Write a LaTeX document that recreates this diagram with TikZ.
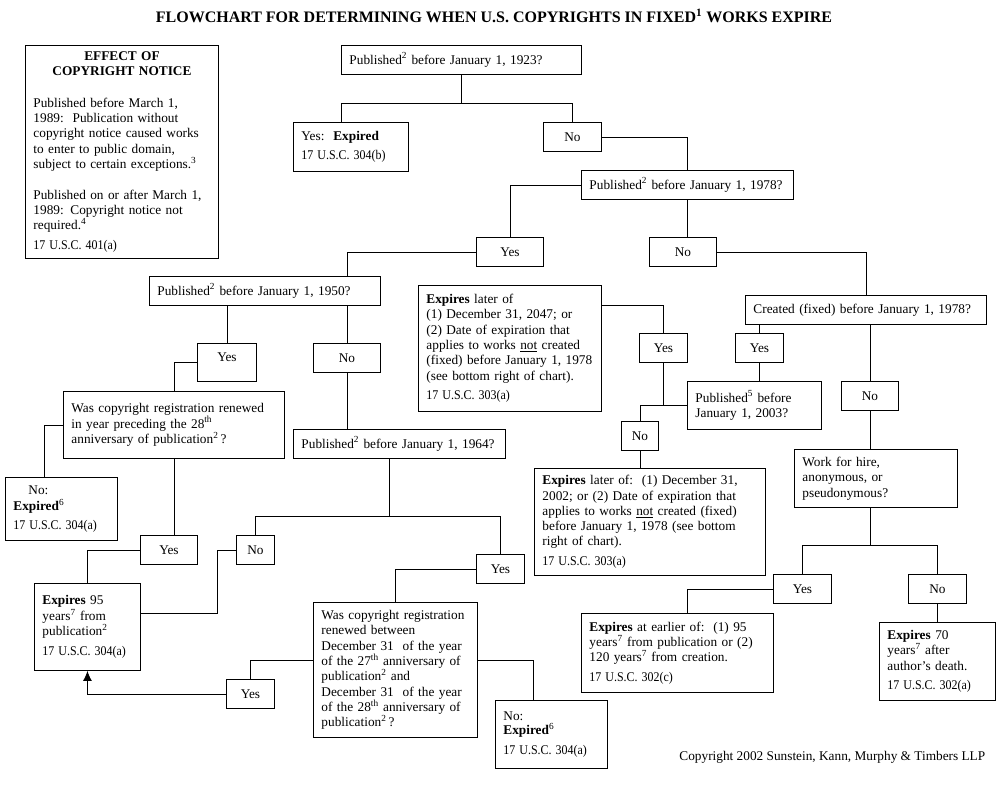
\documentclass[tikz,border=0pt]{standalone}
\usepackage{fontspec}
\setmainfont{Liberation Serif}
\usepackage{graphicx}
\usetikzlibrary{arrows.meta}
\setlength{\parindent}{0pt}
\newcommand{\usc}[1]{\scalebox{0.9}[1]{17 U.S.C. #1}}

\begin{document}
\begin{tikzpicture}[x=1pt,y=-1pt,line width=0.9pt,
  box/.style={draw, anchor=north west, align=left, inner xsep=8pt, inner ysep=3pt, font=\fontsize{13.3}{15.3}\selectfont},
  ans/.style={draw, anchor=north west, align=center, inner sep=0pt, minimum height=29, font=\fontsize{13.3}{15.3}\selectfont}]
\useasboundingbox (0,0) rectangle (1000,800);
\node [font=\bfseries\fontsize{16}{19}\selectfont] (title) at (494,16) {FLOWCHART FOR DETERMINING WHEN U.S. COPYRIGHTS IN FIXED\textsuperscript{1} WORKS EXPIRE};
\node [box, text width=177pt, minimum height=213] (notice) at (25,45) {\makebox[\hsize]{\textbf{EFFECT OF}}\\\makebox[\hsize]{\textbf{COPYRIGHT NOTICE}}\\[16.5pt]Published before March 1,\\1989:~~Publication without\\copyright notice caused works\\to enter to public domain,\\subject to certain exceptions.\textsuperscript{3}\\[15.5pt]Published on or after March 1,\\1989: Copyright notice not\\required.\textsuperscript{4}\\[4.5pt]\usc{401(a)}};
\node [box, text width=224pt, minimum height=29] (q23) at (341,45) {Published\textsuperscript{2} before January 1, 1923?};
\node [box, text width=99pt, minimum height=49] (yes1) at (293,122) {Yes:~~\textbf{Expired}\\[4pt]\usc{304(b)}};
\node [ans, minimum width=58] (no1) at (543,122) {No};
\node [box, text width=196pt, minimum height=29] (q78) at (581,170) {Published\textsuperscript{2} before January 1, 1978?};
\node [ans, minimum width=67] (yes2) at (476,237) {Yes};
\node [ans, minimum width=67] (no2) at (649,237) {No};
\node [box, text width=215pt, minimum height=29] (q50) at (149,276) {Published\textsuperscript{2} before January 1, 1950?};
\node [ans, minimum width=59, minimum height=38, text depth=10pt] (yes3) at (197,343) {Yes};
\node [ans, minimum width=67] (no3) at (313,343) {No};
\node [box, text width=205pt, minimum height=67] (qren28) at (63,391) {Was copyright registration renewed\\in year preceding the 28\textsuperscript{th}\\anniversary of publication\textsuperscript{2}\,?};
\node [box, text width=96pt, minimum height=63] (noexp1) at (5,477) {\hspace*{15pt}No:\\[0.7pt]\textbf{Expired}\textsuperscript{6}\\[4pt]\usc{304(a)}};
\node [ans, minimum width=57] (yes4) at (140,535) {Yes};
\node [ans, minimum width=38] (no5) at (236,535) {No};
\node [box, text width=90pt, minimum height=87] (exp95) at (34,583) {\textbf{Expires} 95\\years\textsuperscript{7} from\\publication\textsuperscript{2}\\[4.5pt]\usc{304(a)}};
\node [box, text width=196pt, minimum height=29] (q64) at (293,429) {Published\textsuperscript{2} before January 1, 1964?};
\node [ans, minimum width=48] (yes5) at (476,554) {Yes};
\node [box, text width=148pt, minimum height=135] (qren27) at (313,602) {Was copyright registration\\renewed between\\December 31~ of the year\\of the 27\textsuperscript{th} anniversary of\\publication\textsuperscript{2} and\\December 31~ of the year\\of the 28\textsuperscript{th} anniversary of\\publication\textsuperscript{2}\,?};
\node [ans, minimum width=48] (yes6) at (226,679) {Yes};
\node [box, text width=96pt, minimum height=68] (noexp2) at (495,700) {No:\\[-1pt]\textbf{Expired}\textsuperscript{6}\\[4pt]\usc{304(a)}};
\node [box, text width=167pt, minimum height=126] (exp2047) at (418,285) {\textbf{Expires} later of\\(1) December 31, 2047; or\\(2) Date of expiration that\\applies to works \underline{not} created\\(fixed) before January 1, 1978\\(see bottom right of chart).\\[4.5pt]\usc{303(a)}};
\node [ans, minimum width=48] (yesA) at (639,333) {Yes};
\node [ans, minimum width=37] (noA) at (621,421) {No};
\node [box, text width=118pt, minimum height=48] (p2003) at (687,381) {Published\textsuperscript{5} before\\January 1, 2003?};
\node [box, text width=215pt, minimum height=107] (exp2002) at (534,468) {\textbf{Expires} later of:~~(1) December 31,\\2002; or (2) Date of expiration that\\applies to works \underline{not} created (fixed)\\before January 1, 1978 (see bottom\\right of chart).\\[4.5pt]\usc{303(a)}};
\node [box, text width=225pt, minimum height=29] (qcr) at (745,295) {Created (fixed) before January 1, 1978?};
\node [ans, minimum width=48] (yesB) at (735,333) {Yes};
\node [ans, minimum width=57] (noB) at (841,381) {No};
\node [box, text width=147pt, minimum height=58] (qhire) at (794,449) {Work for hire,\\anonymous, or\\pseudonymous?};
\node [ans, minimum width=58] (yesC) at (773,574) {Yes};
\node [ans, minimum width=58] (noC) at (908,574) {No};
\node [box, text width=176pt, minimum height=79] (expEar) at (581,613) {\textbf{Expires} at earlier of:~~(1) 95\\years\textsuperscript{7} from publication or (2)\\120 years\textsuperscript{7} from creation.\\[4.5pt]\usc{302(c)}};
\node [box, text width=100pt, minimum height=78] (exp70) at (879,622) {\textbf{Expires} 70\\years\textsuperscript{7} after\\author's death.\\[4.5pt]\usc{302(a)}};
\node [anchor=east, font=\fontsize{13.3}{15.3}\selectfont] (copy) at (989,757) {Copyright 2002 Sunstein, Kann, Murphy \& Timbers LLP};
% connectors
\draw (q23.south) -- ++(0,29);
\draw (yes1.north -| q23.west) -- ++(0,-19) -| (no1.north);
\draw (no1.east) -| (q78.north);
\draw (q78.west) -| (yes2.north);
\draw (q78.south) -- (q78.south |- no2.north);
\draw (no2.east) -| (qcr.north);
\draw (yes2.west) -| (no3.north |- q50.north);
\draw (yes3.north |- q50.south) -- (yes3.north);
\draw (no3.north |- q50.south) -- (no3.north);
\draw (yes3.west) -| (qren28.north);
\draw (qren28.west) -| ([xshift=39pt]noexp1.north west);
\draw (qren28.south) -- (qren28.south |- yes4.north);
\draw (yes4.west) -| (exp95.north);
\draw (no5.west) -- ++(-19,0) |- ([yshift=14pt]exp95.east);
\draw (no3.south) -- (no3.south |- q64.north);
\draw ([xshift=-10pt]q64.south) -- ++(0,58) coordinate (j64);
\draw (no5.north) |- (j64) -| (yes5.north);
\draw (yes5.west) -| (qren27.north);
\draw ([yshift=10pt]qren27.west) -| (yes6.north);
\draw[-{Latex[length=10pt,width=9pt]}] (yes6.west) -| (exp95.south);
\draw ([yshift=10pt]qren27.east) -| ([xshift=-18pt]noexp2.north);
\draw ([yshift=-20pt]exp2047.north east) -| (yesA.north);
\draw (yesA.south) |- (p2003.west);
\draw (noA.north) |- (p2003.west);
\draw (noA.south) -- (noA.south |- exp2002.north);
\draw (yesB.north |- qcr.south) -- (yesB.north);
\draw (yesB.south) -- (yesB.south |- p2003.north);
\draw (noB.north |- qcr.south) -- (noB.north);
\draw (noB.south) -- (noB.south |- qhire.north);
\draw (noB.south |- qhire.south) -- ++(0,38) coordinate (jh);
\draw (yesC.north) |- (jh) -| (noC.north);
\draw (yesC.west) -| ([xshift=10pt]expEar.north);
\draw (noC.south) -- (noC.south |- exp70.north);
\end{tikzpicture}
\end{document}
